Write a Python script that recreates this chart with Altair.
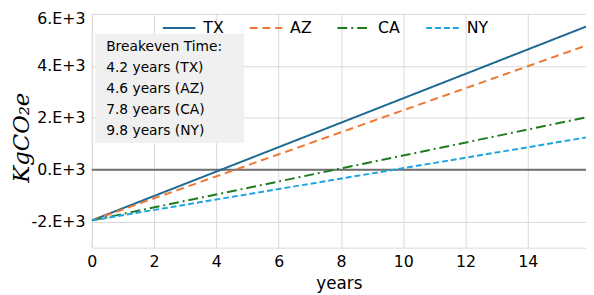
import altair as alt
import pandas as pd

states = ["TX", "AZ", "CA", "NY"]
years = [0, 15.87]
tx = [-1950, 5510]
az = [-1950, 4780]
ca = [-1950, 2015]
ny = [-1950, 1242]
colors = ["#1f6a92", "#ee7733", "#1e7b1e", "#1ea5e0"]
dashes = [[1, 0], [8, 5], [10, 4, 2, 4], [6, 3]]
note_lines = ["Breakeven Time:", "4.2 years (TX)", "4.6 years (AZ)", "7.8 years (CA)", "9.8 years (NY)"]
x_ticks = [0, 2, 4, 6, 8, 10, 12, 14]
y_ticks = [-2000, -1000, 0, 1000, 2000, 3000, 4000, 5000, 6000]

rows = []
for s, vals in zip(states, [tx, az, ca, ny]):
    for yr, v in zip(years, vals):
        rows.append({"state": s, "year": yr, "value": v})
df = pd.DataFrame(rows)

FONT = "DejaVu Sans"

xscale = alt.Scale(domain=[0, 15.87], nice=False, zero=False)
yscale = alt.Scale(domain=[-3000, 6000], nice=False)

box = alt.Chart(pd.DataFrame({"a": [0]})).mark_rect(color="#f0f0f0").encode(
    x=alt.value(3.5), x2=alt.value(154.5), y=alt.value(20), y2=alt.value(131)
)

note = alt.Chart(pd.DataFrame({"a": [0]})).mark_text(
    text=note_lines, align="left", baseline="top", font=FONT, fontSize=14,
    lineHeight=21.2, color="#000000"
).encode(x=alt.value(14.5), y=alt.value(27))

zero = alt.Chart(pd.DataFrame({"a": [0]})).mark_rule(color="#707070", strokeWidth=2).encode(
    y=alt.datum(0)
)

lines = alt.Chart(df).mark_line(strokeWidth=2, clip=True).encode(
    x=alt.X("year:Q", scale=xscale,
            axis=alt.Axis(values=x_ticks, title="years", grid=True, ticks=False,
                          labelFont=FONT, labelFontSize=16, labelColor="#000000",
                          labelPadding=6, titleFont=FONT, titleFontSize=17,
                          titleFontWeight="normal", titleColor="#000000", titlePadding=6,
                          domainColor="#d9d9d9", gridColor="#d9d9d9", labelFlush=False,
                          labelOverlap=False)),
    y=alt.Y("value:Q", scale=yscale,
            axis=alt.Axis(values=y_ticks, title="KgCO₂e", grid=True, ticks=False,
                          labelExpr="floor(datum.value / 2000) * 2000 == datum.value ? (datum.value / 1000) + '.E+3' : ''",
                          labelFont=FONT, labelFontSize=16, labelColor="#000000",
                          labelPadding=7, labelOverlap=False,
                          labelFlush=True, labelFlushOffset=3,
                          titleFont="DejaVu Serif", titleFontStyle="italic",
                          titleFontSize=23, titleFontWeight="normal", titleColor="#000000",
                          titleX=-71, titleY=125, titleAlign="center", titleBaseline="middle",
                          titleAngle=-90,
                          domainColor="#d9d9d9", gridColor="#d9d9d9")),
    color=alt.Color("state:N", scale=alt.Scale(domain=states, range=colors),
                    legend=alt.Legend(orient="none", legendX=71, legendY=-3.5, direction="horizontal",
                                      title=None, symbolType="stroke", symbolSize=1089,
                                      symbolStrokeWidth=2, labelFont=FONT, labelFontSize=16,
                                      labelColor="#000000", labelOffset=7, columnPadding=22)),
    strokeDash=alt.StrokeDash("state:N", scale=alt.Scale(domain=states, range=dashes), legend=None),
    detail="state:N",
)

chart = alt.layer(box, note, zero, lines).properties(
    width=501, height=237,
    autosize=alt.AutoSizeParams(type="none"),
    padding={"left": 85, "top": 4, "right": 0, "bottom": 46},
).configure_view(stroke=None).configure_axis(gridWidth=1)

chart.save("out.html", embed_options={"renderer": "svg", "actions": False})
